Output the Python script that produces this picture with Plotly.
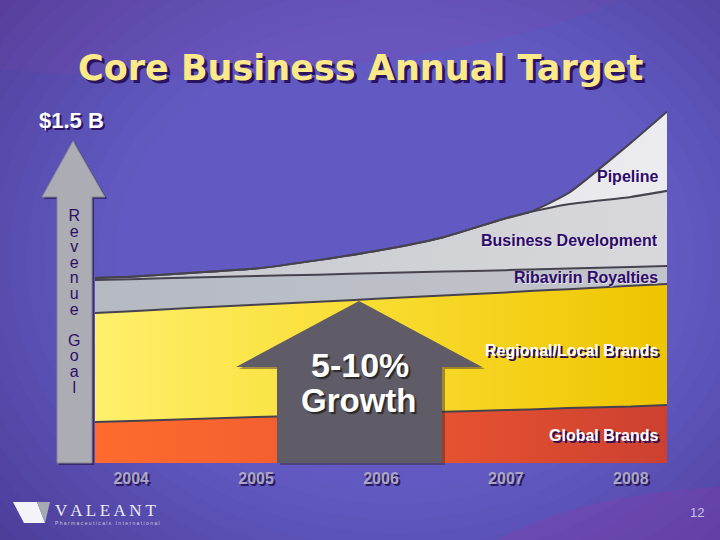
import numpy as np
import plotly.graph_objects as go

# ---------------- data (US$ M) ----------------
x_pos = [2003.71, 2004, 2004.5, 2005, 2005.5, 2006, 2006.5, 2007, 2007.19, 2007.5, 2008, 2008.29]
years = [2004, 2005, 2006, 2007, 2008]
year_labels = ["2004", "2005", "2006", "2007", "2008"]

global_brands = [175, 179, 188, 197, 203, 212, 219, 226, 229, 235, 241, 248]
regional_local = [466, 469, 475, 479, 486, 491, 497, 503, 506, 508, 516, 517]
ribavirin = [141, 137, 130, 123, 116, 109, 102, 95, 92, 88, 81, 77]
business_dev = [9, 11, 20, 32, 62, 98, 147, 222, 245, 275, 299, 321]
pipeline = [0, 0, 0, 0, 0, 0, 0, 0, 0, 47, 231, 338]

series_names = ["Global Brands", "Regional/Local Brands", "Ribavirin Royalties",
                "Business Development", "Pipeline"]
series_values = [global_brands, regional_local, ribavirin, business_dev, pipeline]

W, H = 720, 540


def px(x):
    return x / W


def py(y):
    return 1 - y / H


fig = go.Figure()

# ---------------- stacked areas ----------------
fills = [
    dict(type="horizontal", colorscale=[[0, "#ff6b2e"], [0.45, "#f05a30"], [1, "#cc4030"]]),
    dict(type="horizontal", colorscale=[[0, "#fff06c"], [0.5, "#f9dc30"], [1, "#efc400"]]),
    dict(type="horizontal", colorscale=[[0, "#b5bac2"], [1, "#c2c4ca"]]),
    dict(type="horizontal", colorscale=[[0, "#c6c8ce"], [1, "#d8d8dc"]]),
    dict(type="horizontal", colorscale=[[0, "#dadade"], [1, "#ececf0"]]),
]
for name, vals, fg in zip(series_names, series_values, fills):
    fig.add_trace(go.Scatter(
        x=x_pos, y=vals, name=name, mode="lines", stackgroup="one",
        line=dict(color="#46434e", width=2, shape="spline", smoothing=0.5),
        fillgradient=fg, hoverinfo="skip", showlegend=False,
    ))

# ---------------- background (radial gradient + swooshes) ----------------
shapes = []
outer = np.array([0x34, 0x1f, 0x6c])
inner = np.array([0x62, 0x5a, 0xc2])
N = 40
for i in range(N):
    t = i / (N - 1)
    c = (outer + (inner - outer) * min(1.0, t * 1.6) ** 0.8).astype(int)
    rx = 0.95 * (1 - t) + 0.05
    ry = 1.05 * (1 - t) + 0.05
    cx, cy = 0.55, 0.52
    shapes.append(dict(type="circle", xref="paper", yref="paper", layer="below",
                       x0=cx - rx, x1=cx + rx, y0=cy - ry, y1=cy + ry,
                       fillcolor="rgb(%d,%d,%d)" % tuple(c), line=dict(width=0)))
# subtle magenta swooshes
shapes.append(dict(type="circle", xref="paper", yref="paper", layer="below",
                   x0=-0.6, x1=1.0, y0=0.86, y1=1.5,
                   fillcolor="rgba(140,60,160,0.16)", line=dict(width=0)))
shapes.append(dict(type="circle", xref="paper", yref="paper", layer="below",
                   x0=0.6, x1=1.5, y0=-0.4, y1=0.1,
                   fillcolor="rgba(150,50,170,0.25)", line=dict(width=0)))


def poly(points):
    s = "M " + " L ".join("%.5f,%.5f" % (px(a), py(b)) for a, b in points) + " Z"
    return s


# Revenue goal arrow (left)
rev_arrow = [(57, 463), (57, 197), (42, 197), (73, 141), (105, 197), (92, 197), (92, 463)]
shapes.append(dict(type="path", xref="paper", yref="paper", layer="above",
                   path=poly([(a + 2, b + 2) for a, b in rev_arrow]),
                   fillcolor="rgba(30,15,70,0.6)", line=dict(width=0)))
shapes.append(dict(type="path", xref="paper", yref="paper", layer="above",
                   path=poly(rev_arrow), fillcolor="#acacb4",
                   line=dict(color="#85858f", width=1)))

# Growth arrow (centre)
g_arrow = [(277, 463), (277, 367), (236, 367), (359, 301), (482, 367), (442, 367), (442, 463)]
shapes.append(dict(type="path", xref="paper", yref="paper", layer="above",
                   path=poly([(a + 3, b + 2) for a, b in g_arrow]),
                   fillcolor="rgba(60,40,40,0.45)", line=dict(width=0)))
shapes.append(dict(type="path", xref="paper", yref="paper", layer="above",
                   path=poly(g_arrow), fillcolor="#5f5b67", line=dict(width=0)))

# Valeant logo mark
shapes.append(dict(type="path", xref="paper", yref="paper", layer="above",
                   path=poly([(13, 502), (37, 502), (45, 523), (24, 523)]),
                   fillcolor="#f4f4f8", line=dict(width=0)))
shapes.append(dict(type="path", xref="paper", yref="paper", layer="above",
                   path=poly([(37, 502), (50, 502), (45, 523)]),
                   fillcolor="#a8a8b4", line=dict(width=0)))


# ---------------- text ----------------
def text(x, y, t, font, xanchor="center"):
    return dict(x=px(x), y=py(y), xref="paper", yref="paper", showarrow=False,
                xanchor=xanchor, yanchor="middle", text=t, font=font)


ann = []
ann.append(text(360, 68, "<b>Core Business Annual Target</b>",
                dict(family="DejaVu Sans", size=35, color="#fbe98a",
                     shadow="3px 3px 0px #2a1460")))
ann.append(text(37, 120, "<b>$1.5 B</b>",
                dict(family="Liberation Sans", size=22, color="#ffffff",
                     shadow="2px 2px 0px #2a1460"), xanchor="left"))

# vertical "Revenue Goal" in one text block (12px line pitch, 16px glyphs)
axis_word = "Revenue Goal"
vert = "<br>".join("<span style='font-size:16px'>%s</span>" % ch if ch != " " else " "
                   for ch in axis_word)
ann.append(text(74, 301, vert,
                dict(family="Liberation Sans", size=12, color="#2c0f66")))

label_y = [435, 350, 277, 240, 176]
label_color = ["#ffffff", "#ffffff", "#2e0a6a", "#2e0a6a", "#2e0a6a"]
for name, yy, col in zip(series_names, label_y, label_color):
    sh = "2px 2px 0px #2a0a5a" if col == "#ffffff" else "1px 1px 0px rgba(255,255,255,0.5)"
    ann.append(text(660, yy, "<b>%s</b>" % name,
                    dict(family="Liberation Sans", size=16, color=col, shadow=sh),
                    xanchor="right"))

ann.append(text(360, 365, "<b>5-10%</b>",
                dict(family="Liberation Sans", size=34, color="#ffffff",
                     shadow="2px 2px 1px #2a2a2a")))
ann.append(text(358, 400, "<b>Growth</b>",
                dict(family="Liberation Sans", size=33, color="#ffffff",
                     shadow="2px 2px 1px #2a2a2a")))

ann.append(text(53, 510, "V A L E A N T",
                dict(family="Liberation Serif", size=17, color="#ececf4"), xanchor="left"))
ann.append(text(53, 523, "P h a r m a c e u t i c a l s   I n t e r n a t i o n a l",
                dict(family="Liberation Sans", size=5, color="#c8c8d8"), xanchor="left"))
ann.append(text(697, 512, "12",
                dict(family="Liberation Sans", size=13, color="#c8c0e4")))

fig.update_layout(
    width=W, height=H, margin=dict(l=0, r=0, t=0, b=0),
    paper_bgcolor="#3a2a80", plot_bgcolor="rgba(0,0,0,0)",
    shapes=shapes, annotations=ann,
    xaxis=dict(domain=[px(95), px(667)], range=[x_pos[0], x_pos[-1]],
               tickvals=years, ticktext=["<b>%s</b>" % t for t in year_labels],
               tickfont=dict(family="Liberation Sans", size=16, color="#aaa6c2",
                             shadow="2px 2px 0px #2a1a60"),
               showgrid=False, zeroline=False, showline=False, ticks="",
               ticklabelstandoff=4, fixedrange=True),
    yaxis=dict(domain=[1 - 463 / H, 1 - 100 / H], range=[0, 363 / 0.234],
               visible=False, showgrid=False, fixedrange=True),
    showlegend=False,
)

fig.write_html("out.html")
